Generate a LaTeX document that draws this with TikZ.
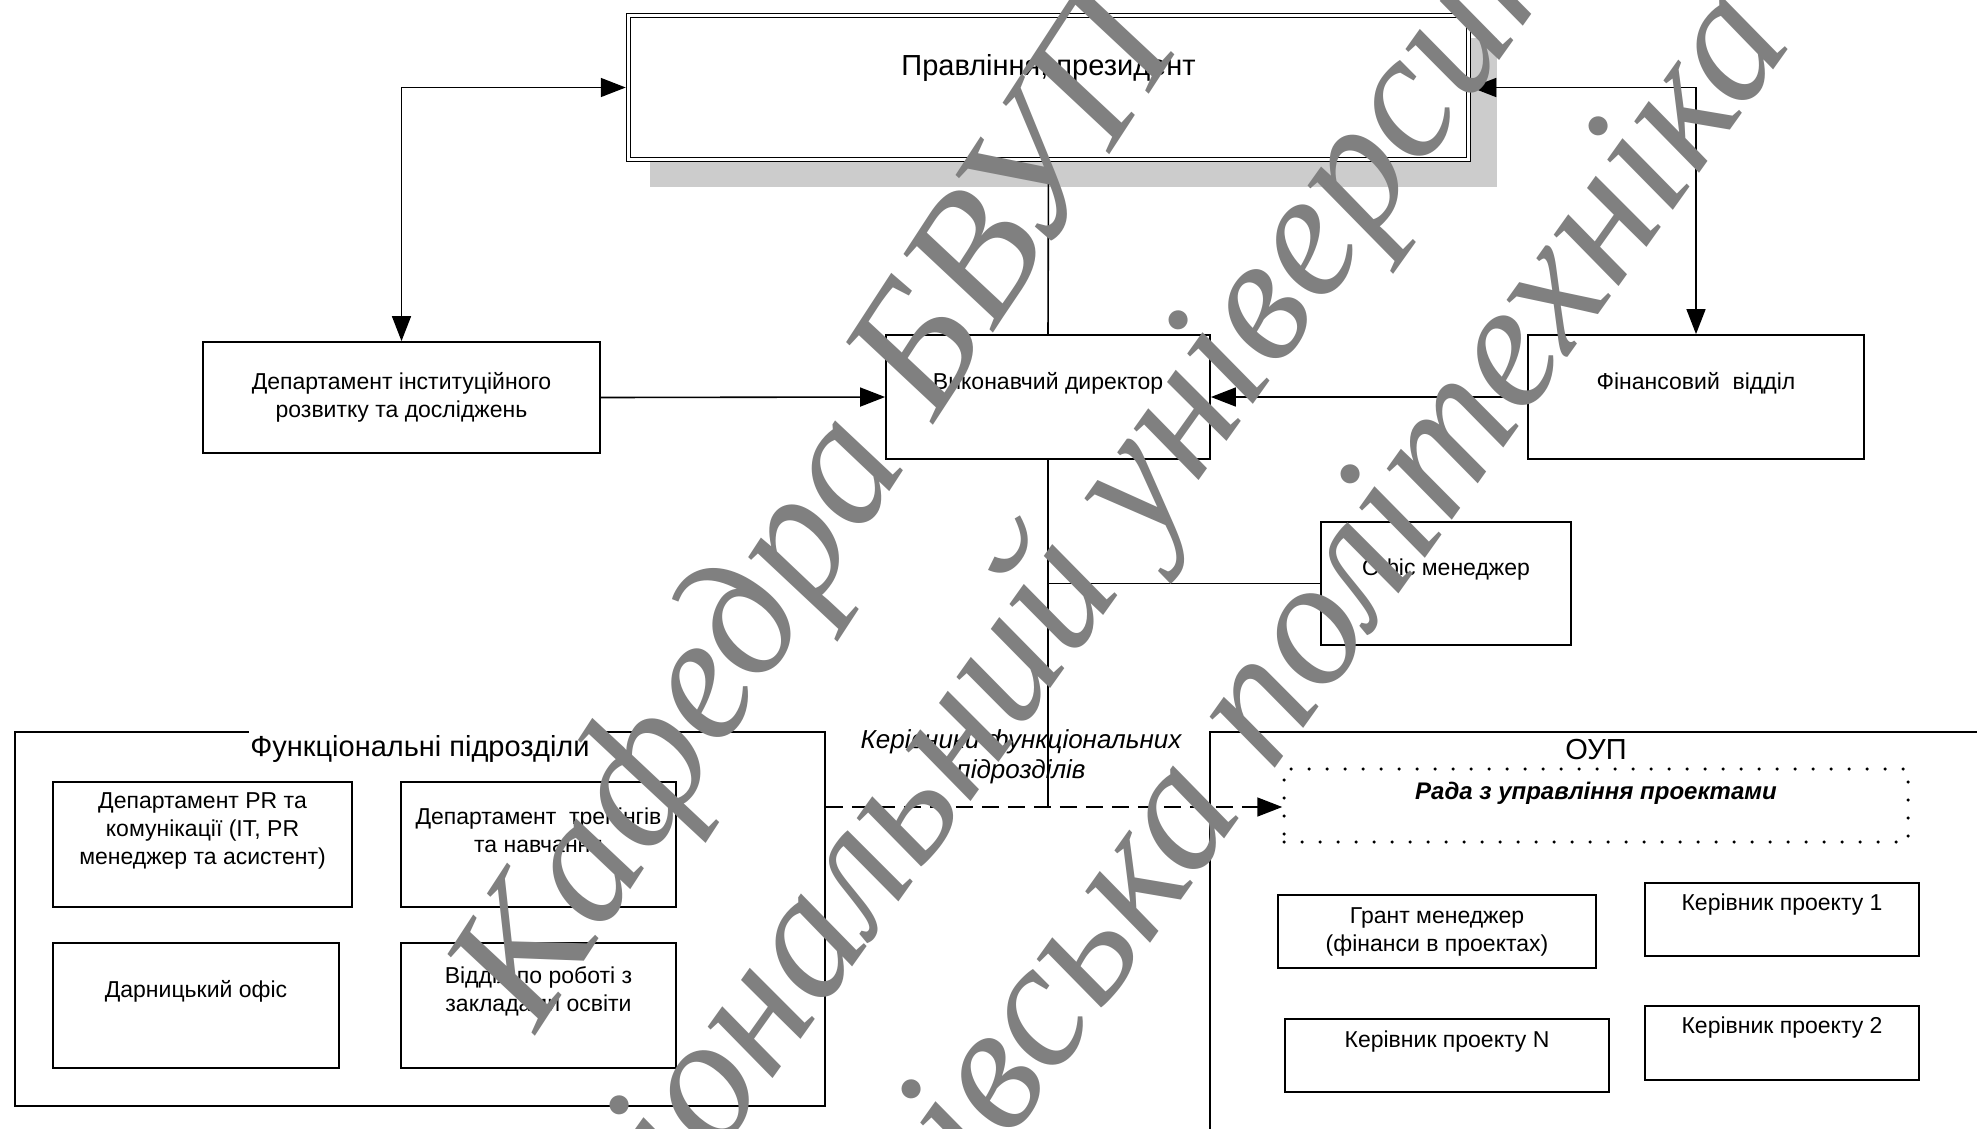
\documentclass[tikz,border=0pt]{standalone}
\usepackage{fontspec}
\setmainfont{Liberation Sans}
\newfontfamily\wmfont{Liberation Serif}
\usepackage{tikz}
\usetikzlibrary{arrows.meta}
\usetikzlibrary{positioning}
\definecolor{wmgray}{RGB}{128,128,128}
\definecolor{shadowgray}{RGB}{204,204,204}
\tikzset{every picture/.style={line width=1.6pt}}
\tikzset{
  box/.style={draw, line width=1.8pt, fill=white, inner sep=0pt},
  grp/.style={draw, line width=1.8pt, inner sep=0pt},
  txt/.style={font=\fontsize{23}{28}\selectfont, align=center, inner sep=0pt},
  bigtxt/.style={font=\fontsize{29}{34}\selectfont, inner sep=0pt},
  grptitle/.style={font=\fontsize{29}{34}\selectfont, fill=white, inner xsep=1pt, inner ysep=6pt},
  tip/.style={-{Triangle[length=25pt,width=19pt]}},
  tips/.style={{Triangle[length=25pt,width=19pt]}-{Triangle[length=25pt,width=19pt]}},
  dashline/.style={dash pattern=on 17pt off 9pt},
  dotbox/.style={draw, dash pattern=on 0pt off 18pt, line cap=round, line width=3.5pt, inner sep=0pt},
  wm/.style={font=\wmfont\itshape\fontsize{180}{180}\selectfont, text=wmgray, rotate=#1, anchor=base west, inner sep=0pt},
  wm/.default=54.5
}
\begin{document}
\begin{tikzpicture}[x=1pt, y=-1pt]
\path[use as bounding box, clip] (0,0) rectangle (1977,1128);
\fill[white] (0,0) rectangle (1977,1128);

% верхній рівень
\fill[shadowgray] (650,38) rectangle (1497,187);
\node[box, double, double distance=2.5pt, line width=1.5pt, outer sep=2.75pt,
      minimum width=840pt, minimum height=144pt] (pres) at (1048.5,87.5) {};
\node[bigtxt] (prestext) at ([yshift=20pt]pres.center) {Правління, президент};

% другий рівень
\node[box, txt, minimum width=397pt, minimum height=111pt] (ir) at (401.5,397.5)
  {Департамент інституційного\\розвитку та досліджень};
\node[box, minimum width=324pt, minimum height=124pt] (vd) at (1048,397) {};
\node[txt] (vdtext) at ([yshift=14pt]vd.center) {Виконавчий директор};
\node[box, minimum width=336pt, minimum height=124pt] (fin) at (1696,397) {};
\node[txt] (fintext) at ([yshift=14pt]fin.center) {Фінансовий\ \ відділ};
\node[box, minimum width=250pt, minimum height=123pt] (om) at (1446,583.5) {};
\node[txt] (omtext) at ([yshift=14pt]om.center) {Офіс менеджер};

% функціональні підрозділи
\node[grp, minimum width=810pt, minimum height=374pt] (fu) at (420,919) {};
\node[box, minimum width=299pt, minimum height=125pt] (pr) at (202.5,844.5) {};
\node[txt] (prtext) at ([yshift=14pt]pr.center) {Департамент PR та\\комунікації (IT, PR\\менеджер та асистент)};
\node[box, minimum width=275pt, minimum height=125pt] (tr) at (538.5,844.5) {};
\node[txt] (trtext) at ([yshift=14pt]tr.center) {Департамент\ \ тренінгів\\та навчання};
\node[box, minimum width=286pt, minimum height=125pt] (da) at (196,1005.5) {};
\node[txt] (datext) at ([yshift=14pt]da.center) {Дарницький офіс};
\node[box, minimum width=275pt, minimum height=125pt] (vz) at (538.5,1005.5) {};
\node[txt] (vztext) at ([yshift=14pt]vz.center) {Відділ по роботі з\\закладами освіти};
\node[grptitle] (futitle) at ([yshift=-18pt]fu.north) {Функціональні підрозділи};

% ОУП
\node[grp, minimum width=772pt, minimum height=408pt] (oup) at (1596,936) {};
\node[dotbox, minimum width=624pt, minimum height=73pt] (rada) at (1596,805.5) {};
\node[txt, font=\fontsize{24}{28}\selectfont\bfseries\itshape] (radatext) at ([yshift=12pt]rada.center)
  {Рада з управління проектами};
\node[box, txt, minimum width=318pt, minimum height=73pt] (gm) at (1437,931.5)
  {Грант менеджер\\(фінанси в проектах)};
\node[box, minimum width=274pt, minimum height=73pt] (k1) at (1782,919.5) {};
\node[txt] (k1text) at ([yshift=15pt]k1.center) {Керівник проекту 1};
\node[box, minimum width=324pt, minimum height=73pt] (kn) at (1447,1055.5) {};
\node[txt] (kntext) at ([yshift=14pt]kn.center) {Керівник проекту N};
\node[box, minimum width=274pt, minimum height=74pt] (k2) at (1782,1043) {};
\node[txt] (k2text) at ([yshift=15pt]k2.center) {Керівник проекту 2};
\node[grptitle] (ouptitle) at ([yshift=-18pt]oup.north) {ОУП};

% зв'язки
\coordinate (kf) at (1048,807);
\draw[tips] (pres.west) -| (ir.north);
\draw[tips] (pres.east) -| (fin.north);
\draw (pres.south) -- (vd.north);
\draw[tip] (ir.east) -- (vd.west);
\draw[tip] (fin.west) -- (vd.east);
\draw (vd.south) -- (kf);
\draw (vd.south |- om.west) -- (om.west);
\draw[dashline, tip] (fu.east |- kf) -- (kf -| rada.west);
\node[txt, font=\fontsize{26}{30}\selectfont\itshape] (kftext) at (1021,757)
  {Керівники функціональних\\підрозділів};

% водяний знак
\node[wm=56.9] (wm1) at (536,1035) {Кафедра БВУП};
\node[wm] (wm2) at (508,1450) {Національний університет};
\node[wm] (wm3) at (816,1412) {Львівська політехніка};
\end{tikzpicture}
\end{document}
